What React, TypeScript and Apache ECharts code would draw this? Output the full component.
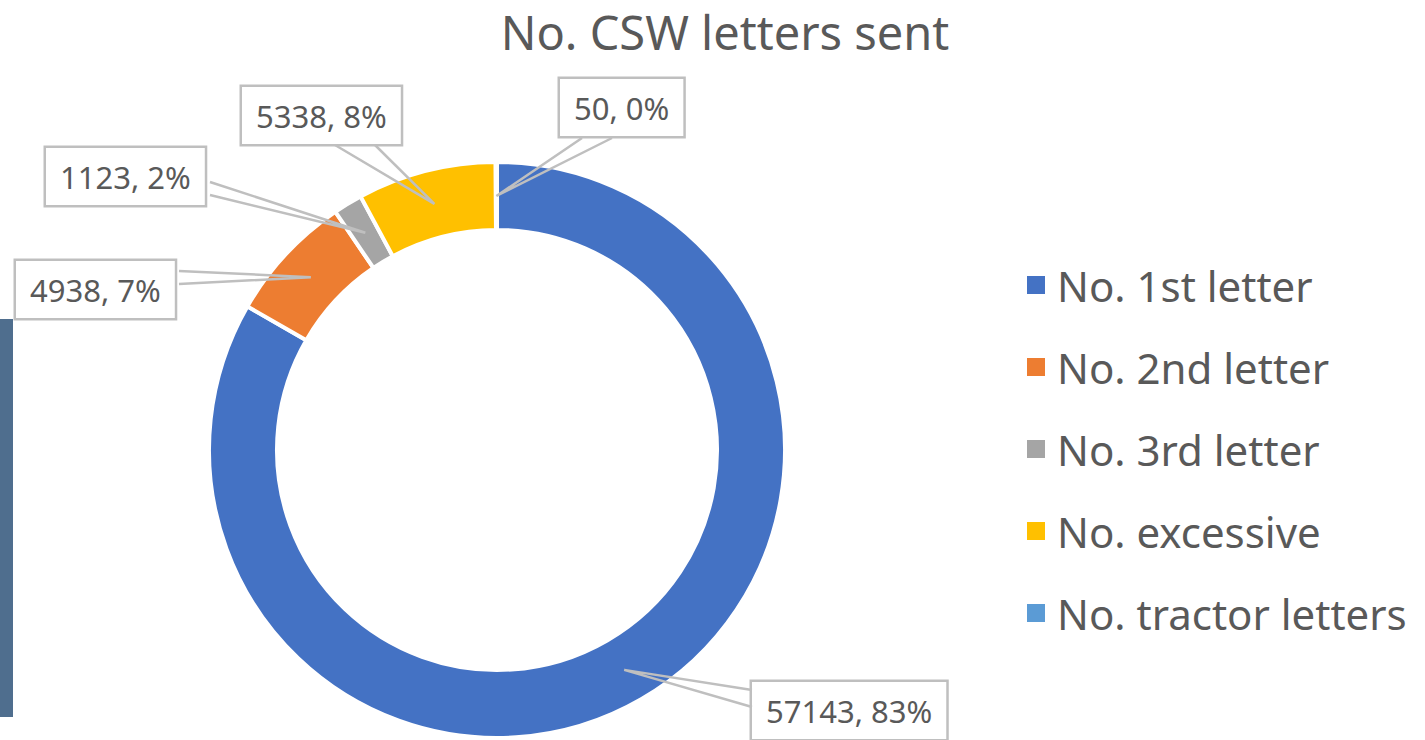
import React, { useEffect, useRef } from "react";
import * as echarts from "echarts";

const title = "No. CSW letters sent";
const categories = ["No. 1st letter", "No. 2nd letter", "No. 3rd letter", "No. excessive", "No. tractor letters"];
const values = [57143, 4938, 1123, 5338, 50];
const colors = ["#4472C4", "#ED7D31", "#A5A5A5", "#FFC000", "#5B9BD5"];

// label box placement (top-left) and the two points on the box edge where the callout wedge starts
const labelBoxes = [
  { x: 752, y: 682, a: [[752, 690], [752, 707]] },
  { x: 16, y: 261, a: [[179, 271], [179, 284]] },
  { x: 46, y: 148, a: [[210, 182], [210, 195]] },
  { x: 242, y: 87, a: [[335, 145], [375, 145]] },
  { x: 560, y: 79, a: [[582, 138], [612, 138]] },
];

const CX = 497;
const CY = 450;
const R_IN = 220;
const R_OUT = 288;

export default function App() {
  const ref = useRef<HTMLDivElement>(null);
  useEffect(() => {
    document.body.style.margin = "0";
    const chart = echarts.init(ref.current!, null, { renderer: "svg" });
    const total = values.reduce((a, b) => a + b, 0);
    const font = "'Noto Sans', sans-serif";

    // callout wedges pointing at the middle of each slice (derived from the data)
    const rMid = (R_IN + R_OUT) / 2;
    let cum = 0;
    const wedges = values.map((v, i) => {
      const mid = (cum + v / 2) / total;
      cum += v;
      const ang = ((90 - mid * 360) * Math.PI) / 180;
      const tip = [CX + rMid * Math.cos(ang), CY - rMid * Math.sin(ang)];
      const [p1, p2] = labelBoxes[i].a;
      return {
        type: "polyline",
        z: 10,
        silent: true,
        shape: { points: [p1, tip, p2] },
        style: { stroke: "#BFBFBF", lineWidth: 2.5, fill: null },
      };
    });

    chart.setOption({
      animation: false,
      backgroundColor: "#ffffff",
      title: {
        text: title,
        left: 725,
        textAlign: "center",
        top: 7,
        padding: 0,
        textStyle: { fontFamily: font, fontSize: 47, lineHeight: 50, fontWeight: "normal", color: "#595959" },
      },
      legend: {
        orient: "vertical",
        left: 1020,
        top: 259,
        itemWidth: 20,
        itemHeight: 20,
        itemGap: 40,
        icon: "rect",
        data: categories,
        textStyle: { fontFamily: font, fontSize: 42, color: "#595959", padding: [0, 0, 0, 6] },
      },
      graphic: [
        { type: "rect", left: 0, top: 319, shape: { width: 13, height: 398 }, style: { fill: "#4F6E8E" }, silent: true },
        ...wedges,
      ],
      series: [
        {
          type: "pie",
          center: [CX, CY],
          radius: [R_IN, R_OUT],
          startAngle: 90,
          clockwise: true,
          avoidLabelOverlap: false,
          itemStyle: { borderColor: "#ffffff", borderWidth: 4 },
          data: categories.map((name, i) => ({ name, value: values[i], itemStyle: { color: colors[i] } })),
          label: {
            show: true,
            position: "outside",
            formatter: (p: any) => `${p.value}, ${Math.round((p.value / total) * 100)}%`,
            fontFamily: font,
            fontSize: 31,
            lineHeight: 37,
            color: "#595959",
            backgroundColor: "#ffffff",
            borderColor: "#BFBFBF",
            borderWidth: 2.5,
            padding: [10, 14, 10, 14],
          },
          labelLine: { show: false },
          labelLayout: (params: any) => {
            const b = labelBoxes[params.dataIndex];
            return { x: b.x, y: b.y, align: "left", verticalAlign: "top" };
          },
        },
      ],
    });
    return () => chart.dispose();
  }, []);
  return <div ref={ref} style={{ width: 1425, height: 740 }} />;
}
